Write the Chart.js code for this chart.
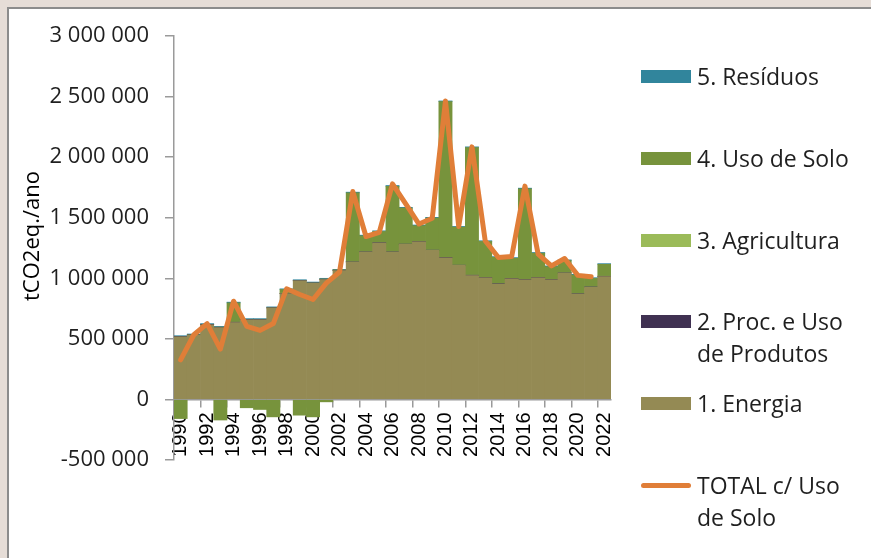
<!DOCTYPE html>
<html>
<head>
<meta charset="utf-8">
<script src="https://cdn.jsdelivr.net/npm/chart.js@4/dist/chart.umd.min.js"></script>
<style>
    body { margin: 0; background: #e6ddd7; width: 871px; height: 558px; overflow: hidden; position: relative; }
    .frame { position: absolute; left: 7px; top: 7px; width: 900px; height: 600px; background: #fff;
             border-left: 2px solid #8c8c8c; border-top: 2px solid #8c8c8c; }
    #chart { position: absolute; left: 0; top: 0; }
    .legend { position: absolute; left: 0; top: 0; font-family: "Open Sans", sans-serif; font-size: 23px; color: #1f1f1f; }
    .legend-item { position: absolute; left: 641px; width: 225px; }
    .legend-swatch { position: absolute; left: 0; width: 50px; height: 13px; top: 10px; }
    .legend-swatch.line { height: 5px; top: 14px; border-radius: 3px; }
    .legend-text { position: absolute; left: 56px; width: 170px; line-height: 32px; }
</style>
</head>
<body>
<div class="frame"></div>
<canvas id="chart" width="871" height="558"></canvas>
<div class="legend" id="legend"></div>
<script>
const years = ['1990', '1991', '1992', '1993', '1994', '1995', '1996', '1997', '1998', '1999',
    '2000', '2001', '2002', '2003', '2004', '2005', '2006', '2007', '2008', '2009',
    '2010', '2011', '2012', '2013', '2014', '2015', '2016', '2017', '2018', '2019',
    '2020', '2021', '2022'];

// tCO2eq./ano by sector
const energia = [516000, 530000, 616000, 593000, 635000, 657000, 657000, 754000, 873000, 978000,
    959000, 990000, 1064000, 1133000, 1216000, 1291000, 1216000, 1280000, 1300000, 1230000,
    1169000, 1106000, 1023000, 1003000, 953000, 995000, 987000, 1003000, 987000, 1042000,
    870000, 926000, 1014000];
const processos = [3000, 3000, 3000, 3000, 3000, 3000, 3000, 3000, 3000, 3000,
    3000, 3000, 3000, 3000, 3000, 3000, 3000, 3000, 3000, 3000,
    3000, 3000, 3000, 3000, 3000, 3000, 3000, 3000, 3000, 3000,
    3000, 3000, 3000];
const agricultura = [1000, 1000, 1000, 1000, 1000, 1000, 1000, 1000, 1000, 1000,
    1000, 1000, 1000, 1000, 1000, 1000, 1000, 1000, 1000, 1000,
    1000, 1000, 1000, 1000, 1000, 1000, 1000, 1000, 1000, 1000,
    1000, 1000, 1000];
const usoSolo = [-158000, 0, 0, -170000, 158000, -69000, -83000, -144000, 30000, -130000,
    -144000, -20000, 0, 568000, 130000, 91000, 540000, 296000, 130000, 263000,
    1285000, 312000, 1052000, 297000, 216000, 166000, 747000, 200000, 105000, 100000,
    153000, 69000, 97000];
const residuos = [6000, 6000, 6000, 6000, 6000, 6000, 6000, 6000, 6000, 6000,
    6000, 6000, 6000, 6000, 6000, 6000, 6000, 6000, 6000, 6000,
    6000, 6000, 6000, 6000, 6000, 6000, 6000, 6000, 6000, 6000,
    6000, 6000, 6000];
const totalComSolo = [327000, 534000, 626000, 415000, 811000, 603000, 570000, 626000, 913000, 866000,
    825000, 960000, 1052000, 1716000, 1345000, 1379000, 1780000, 1614000, 1448000, 1495000,
    2464000, 1428000, 2085000, 1310000, 1171000, 1179000, 1761000, 1199000, 1102000, 1163000,
    1024000, 1013000, null];

const yTicks = [-500000, 0, 500000, 1000000, 1500000, 2000000, 2500000, 3000000];

const colors = {
    energia: '#948a54',
    processos: '#403152',
    agricultura: '#9bbb59',
    usoSolo: '#77933c',
    residuos: '#31859c',
    total: '#e07e38'
};

function fmt(v) {
    return String(v).replace(/\B(?=(\d{3})+(?!\d))/g, ' ');
}

function bar(label, data, color) {
    return {
        type: 'bar', label: label, data: data, backgroundColor: color,
        borderWidth: 0, barPercentage: 1, categoryPercentage: 1, order: 1
    };
}

// y axis title drawn where the reference puts it
const yTitle = {
    id: 'yTitle',
    afterDraw(chart) {
        const ctx = chart.ctx;
        ctx.save();
        ctx.translate(33, 236);
        ctx.rotate(-Math.PI / 2);
        ctx.font = '22px "Open Sans"';
        ctx.fillStyle = '#000';
        ctx.textAlign = 'center';
        ctx.textBaseline = 'middle';
        ctx.fillText('tCO2eq./ano', 0, 0);
        ctx.restore();
    }
};

const chart = new Chart(document.getElementById('chart'), {
    data: {
        labels: years,
        datasets: [
            bar('1. Energia', energia, colors.energia),
            bar('2. Proc. e Uso de Produtos', processos, colors.processos),
            bar('3. Agricultura', agricultura, colors.agricultura),
            bar('4. Uso de Solo', usoSolo, colors.usoSolo),
            bar('5. Resíduos', residuos, colors.residuos),
            {
                type: 'line', label: 'TOTAL c/ Uso de Solo', data: totalComSolo,
                borderColor: colors.total, backgroundColor: colors.total, borderWidth: 5,
                pointRadius: 0, tension: 0, borderJoinStyle: 'round', borderCapStyle: 'round',
                stack: 'total', order: 0
            }
        ]
    },
    options: {
        responsive: false,
        animation: false,
        layout: { padding: { top: 36, right: 260, bottom: 98, left: 0 } },
        plugins: { legend: { display: false }, tooltip: { enabled: false } },
        scales: {
            x: {
                stacked: true,
                position: { y: 0 },
                offset: true,
                grid: {
                    offset: true, drawOnChartArea: false, tickLength: 7, lineWidth: 1.5,
                    color: ctx => (ctx.index % 2 === 0 ? '#9a9a9a' : 'rgba(0,0,0,0)')
                },
                border: { color: '#9a9a9a', width: 1.5 },
                ticks: {
                    autoSkip: false, minRotation: 90, maxRotation: 90, padding: 6,
                    color: '#000', font: { family: '"Liberation Sans"', size: 20 },
                    callback: (v, i) => (i % 2 === 0 ? years[i] : '')
                }
            },
            y: {
                stacked: true,
                min: yTicks[0],
                max: yTicks[yTicks.length - 1],
                afterFit: s => { s.width = 174; },
                afterBuildTicks: s => { s.ticks = yTicks.map(v => ({ value: v })); },
                grid: { drawOnChartArea: false, tickLength: 9, color: '#9a9a9a', lineWidth: 1.5 },
                border: { color: '#9a9a9a', width: 1.5 },
                ticks: {
                    padding: 16, color: '#1f1f1f',
                    font: { family: '"Open Sans"', size: 22 },
                    callback: v => fmt(v)
                }
            }
        }
    },
    plugins: [yTitle]
});

// legend, listed top-down like the reference (reverse stack order)
const legendEl = document.getElementById('legend');
const legendOrder = [4, 3, 2, 1, 0, 5];
legendOrder.forEach((di, i) => {
    const ds = chart.data.datasets[di];
    const item = document.createElement('div');
    item.className = 'legend-item';
    item.style.top = (76 + 81.8 * i - 16) + 'px';
    const sw = document.createElement('div');
    sw.className = 'legend-swatch' + (ds.type === 'line' ? ' line' : '');
    sw.style.background = ds.type === 'line' ? ds.borderColor : ds.backgroundColor;
    const tx = document.createElement('div');
    tx.className = 'legend-text';
    tx.textContent = ds.label;
    item.appendChild(sw);
    item.appendChild(tx);
    legendEl.appendChild(item);
});
</script>
</body>
</html>
